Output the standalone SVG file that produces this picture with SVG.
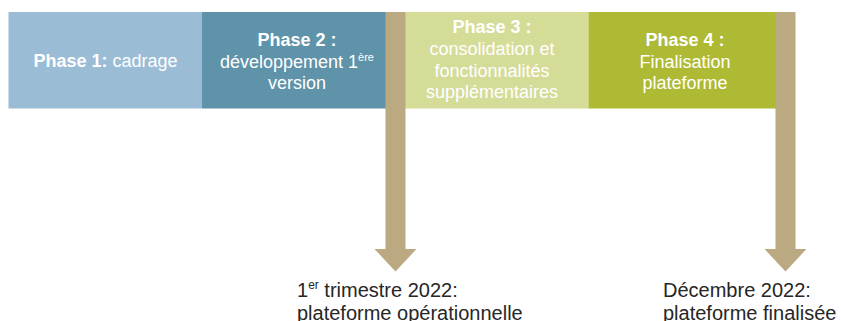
<svg xmlns="http://www.w3.org/2000/svg" width="841" height="321" viewBox="0 0 841 321">
<style>
.ph{font-family:"Liberation Sans",Arial,sans-serif;font-size:18px;fill:#ffffff;text-anchor:middle}
.b{font-weight:bold}
.ms{font-family:"Liberation Sans",Arial,sans-serif;font-size:20px;fill:#262626}
.arr{fill:#bba982}
</style>
<rect width="841" height="321" fill="#ffffff"/>
<g id="phase1">
<rect x="8.5" y="12" width="193.5" height="96.5" fill="#9bbcd5"/>
<text class="ph" x="105.5" y="67"><tspan class="b">Phase 1:</tspan> cadrage</text>
</g>
<g id="phase2">
<rect x="202" y="12" width="184" height="96.5" fill="#5f93a9"/>
<text class="ph" x="297" y="46"><tspan class="b">Phase 2 :</tspan></text>
<text class="ph" x="297" y="67.5">développement 1<tspan font-size="11" dy="-7">ère</tspan></text>
<text class="ph" x="297" y="89">version</text>
</g>
<g id="phase3">
<rect x="405" y="12" width="183.5" height="96.5" fill="#d5dc98"/>
<text class="ph" x="492" y="33"><tspan class="b">Phase 3 :</tspan></text>
<text class="ph" x="492" y="55">consolidation et</text>
<text class="ph" x="492" y="76.5">fonctionnalités</text>
<text class="ph" x="492" y="98">supplémentaires</text>
</g>
<g id="phase4">
<rect x="588.5" y="12" width="187.5" height="96.5" fill="#afba34"/>
<text class="ph" x="685" y="46"><tspan class="b">Phase 4 :</tspan></text>
<text class="ph" x="685" y="67.5">Finalisation</text>
<text class="ph" x="685" y="89">plateforme</text>
</g>
<g id="connectors">
<path class="arr" d="M385.5,12 H405.5 V249 H416.5 L395.5,271.5 L374.5,249 H385.5 Z"/>
<path class="arr" d="M775.5,12 H795.5 V249 H806.5 L785.5,271.5 L764.5,249 H775.5 Z"/>
</g>
<g id="milestone1">
<text class="ms" x="297" y="297">1<tspan font-size="12" dy="-8">er</tspan><tspan dy="8"> trimestre 2022:</tspan></text>
<text class="ms" x="297" y="320">plateforme opérationnelle</text>
</g>
<g id="milestone2">
<text class="ms" x="663" y="297">Décembre 2022:</text>
<text class="ms" x="663" y="320">plateforme finalisée</text>
</g>
</svg>
